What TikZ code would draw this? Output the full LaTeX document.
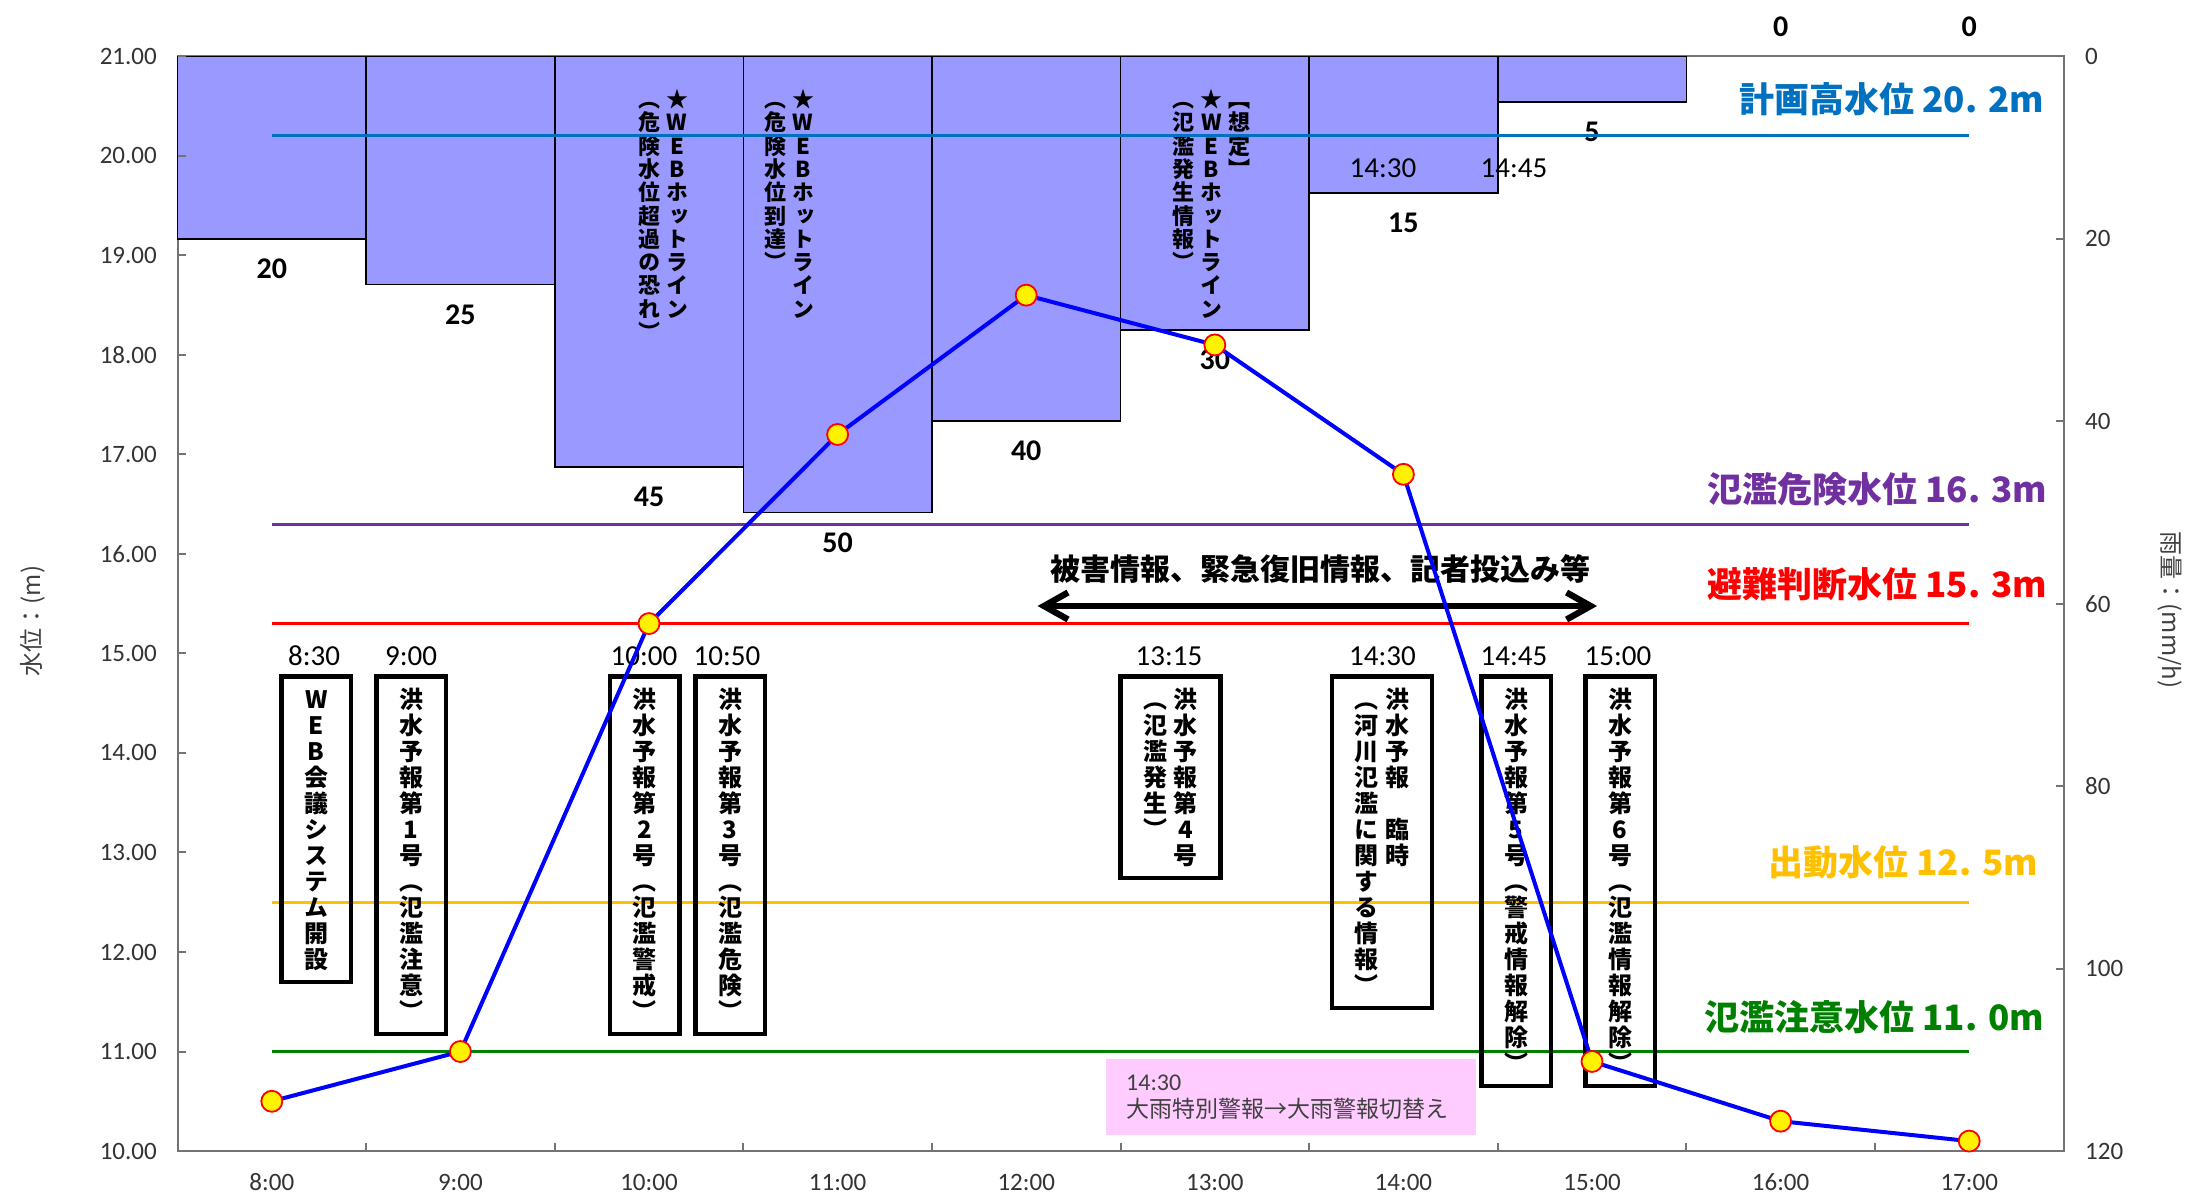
\documentclass[tikz,border=0pt]{standalone}
\usepackage{fontspec}
\setmainfont{Carlito}
\newfontfamily\cjk{Noto Sans CJK JP}
\newfontfamily\tatefont[RawFeature=+vert]{Noto Sans CJK JP}
\usetikzlibrary{arrows.meta}

\definecolor{barblue}{HTML}{9999FF}
\definecolor{lvplan}{HTML}{0070C0}
\definecolor{lvdanger}{HTML}{7030A0}
\definecolor{lvevac}{HTML}{FF0000}
\definecolor{lvmove}{HTML}{FFC000}
\definecolor{lvwarn}{HTML}{008000}
\definecolor{pinkfill}{HTML}{FFCCFF}

% vertical japanese text, one character per row
\newcommand\tatecell[1]{\hbox to 1em{\vrule height .88em depth .12em width 0pt\hss#1\hss}}
\newcommand\tate[1]{\vtop{\lineskiplimit=-\maxdimen\tatefirst#1\relax}}
\def\tatefirst#1{\tatecell{#1}\taterest}
\def\taterest#1{\ifx#1\relax\else\tatecell{#1}\expandafter\taterest\fi}

\begin{document}
\begin{tikzpicture}[x=1pt,y=-1pt,
  bar/.style={fill=barblue,draw=black,line width=1.6pt},
  barval/.style={font=\bfseries\fontsize{30}{30}\selectfont,inner sep=0pt},
  axisline/.style={draw=black!55,line width=2pt},
  ticklab/.style={font=\fontsize{25}{25}\selectfont,text=black!80,inner sep=0pt},
  axtitle/.style={font=\cjk\fontsize{24}{24}\selectfont,text=black!75,inner sep=0pt},
  hline/.style={line width=3pt},
  lvlab/.style={font=\cjk\bfseries\fontsize{35}{35}\selectfont,anchor=east,inner sep=0pt},
  event/.style={draw=black,line width=4.5pt,minimum width=69.5pt,inner xsep=0pt,inner ysep=10.7pt,anchor=north,font=\tatefont\bfseries\fontsize{24}{26}\selectfont},
  hotline/.style={inner sep=0pt,anchor=north,font=\tatefont\bfseries\fontsize{22}{23.3}\selectfont},
  timelab/.style={font=\fontsize{29}{29}\selectfont,inner sep=0pt},
  level/.style={draw=blue,line width=4pt,line join=round},
  dot/.style={circle,fill=yellow,draw=red,line width=1.8pt,minimum size=21pt,inner sep=0pt}]

\fill[white] (0,0) rectangle (2190,1200);

% plot frame
\draw[axisline] (177.5,56.3) -- (177.5,1151) -- (2064,1151) -- (2064,56.3) -- cycle;

% rainfall bars (right axis, from top)
\foreach \i/\r in {0/20,1/25,2/45,3/50,4/40,5/30,6/15,7/5} {
  \draw[bar] ({177.5+188.6*\i},56.3) rectangle ({366.1+188.6*\i},{56.3+9.1225*\r});
  \node[barval] (rain\i) at ({271.8+188.6*\i},{86.3+9.1225*\r}) {\r};
}
\node[barval] (rain8) at (1780.6,26.7) {0};
\node[barval] (rain9) at (1969.2,26.7) {0};

% hotline notes inside the bars
\node[hotline] (hot10) at (663,88) {\tate{（危険水位超過の恐れ）}\hspace{6pt}\tate{★WEBホットライン}};
\node[hotline] (hot11) at (789,88) {\tate{（危険水位到達）}\hspace{6pt}\tate{★WEBホットライン}};
\node[hotline] (hot13) at (1211.3,88) {\tate{（氾濫発生情報）}\hspace{6pt}\tate{★WEBホットライン}\hspace{6pt}\tate{【想定】}};
\node[timelab] (t1430a) at (1383,168) {14:30};
\node[timelab] (t1445a) at (1514,168) {14:45};

% ticks and tick labels
\foreach \v in {10,...,21} {
  \draw[axisline] (177.5,{56.3+99.52*(21-\v)}) -- ++(8,0);
  \node[ticklab,anchor=east] (wl\v) at (157,{56.3+99.52*(21-\v)}) {\v.00};
}
\foreach \r in {0,20,...,120} {
  \draw[axisline] (2064,{56.3+9.1225*\r}) -- ++(-8,0);
  \node[ticklab,anchor=west] (rl\r) at (2085,{56.3+9.1225*\r}) {\r};
}
\foreach \k in {1,...,9}
  \draw[axisline] ({177.5+188.6*\k},1151) -- ++(0,-8);
\foreach \h [count=\k from 0] in {8,...,17}
  \node[ticklab] (hr\h) at ({271.8+188.6*\k},1182) {\h:00};

\node[axtitle,rotate=90] (ytitle) at (33,621) {水位：(m)};
\node[axtitle,rotate=-90] (y2title) at (2170,610) {雨量：(mm/h)};

% reference water levels
\foreach \w/\c in {20.2/lvplan,16.3/lvdanger,15.3/lvevac,12.5/lvmove,11.0/lvwarn}
  \draw[hline,\c] (271.8,{56.3+99.52*(21-\w)}) -- (1969.2,{56.3+99.52*(21-\w)});
\node[lvlab,text=lvplan] (lab202) at (2044,99) {計画高水位 20. 2m};
\node[lvlab,text=lvdanger] (lab163) at (2047,489) {氾濫危険水位 16. 3m};
\node[lvlab,text=lvevac] (lab153) at (2047,584) {避難判断水位 15. 3m};
\node[lvlab,text=lvmove] (lab125) at (2038,862) {出動水位 12. 5m};
\node[lvlab,text=lvwarn] (lab110) at (2044,1017) {氾濫注意水位 11. 0m};

% events
\node[event] (b830) at (316.3,674.3) {\tate{WEB会議システム開設}};
\node[event] (b900) at (411,674.3) {\tate{洪水予報第1号（氾濫注意）}};
\node[event] (b1000) at (644.5,674.3) {\tate{洪水予報第2号（氾濫警戒）}};
\node[event] (b1050) at (730,674.3) {\tate{洪水予報第3号（氾濫危険）}};
\node[event,minimum width=100pt] (b1315) at (1170.5,674.3) {\tate{（氾濫発生）}\hspace{6.5pt}\tate{洪水予報第4号}};
\node[event,minimum width=100pt] (b1430) at (1382,674.3) {\tate{（河川氾濫に関する情報）}\hspace{6.5pt}\tate{洪水予報　臨時}};
\node[event] (b1445) at (1516,674.3) {\tate{洪水予報第5号（警戒情報解除）}};
\node[event] (b1500) at (1620,674.3) {\tate{洪水予報第6号（氾濫情報解除）}};

\node[timelab] (t830) at (314,656) {8:30};
\node[timelab] (t900) at (411,656) {9:00};
\node[timelab] (t1000) at (644,656) {10:00};
\node[timelab] (t1050) at (727,656) {10:50};
\node[timelab] (t1315) at (1169,656) {13:15};
\node[timelab] (t1430) at (1382.5,656) {14:30};
\node[timelab] (t1445) at (1514,656) {14:45};
\node[timelab] (t1500) at (1618,656) {15:00};

% damage info span
\coordinate (spanl) at (1037.6,606);
\coordinate (spanr) at (1597,606);
\draw[line width=6.3pt,{Straight Barb[length=24pt,width=27pt]}-{Straight Barb[length=24pt,width=27pt]}] (spanl) -- (spanr);
\node[font=\cjk\bfseries\fontsize{30}{30}\selectfont,inner sep=0pt] (dmg) at (1320,569.4) {被害情報、緊急復旧情報、記者投込み等};

% warning switch note
\node[fill=pinkfill,anchor=north west,minimum width=366.5pt,minimum height=76.5pt,
      text width=330pt,inner xsep=20pt,align=left,text=black!75,
      font=\fontsize{23}{27.5}\selectfont] (warn) at (1106,1058.5)
      {{\fontsize{24}{27.5}\selectfont 14:30}\\{\cjk 大雨特別警報→大雨警報切替え}};

% water level
\foreach \i/\w in {0/10.5,1/11.0,2/15.3,3/17.2,4/18.6,5/18.1,6/16.8,7/10.9,8/10.3,9/10.1}
  \coordinate (p\i) at ({271.8+188.6*\i},{56.3+99.52*(21-\w)});
\draw[level] (p0) \foreach \i in {1,...,9} {-- (p\i)};
\foreach \i in {0,...,9}
  \node[dot] (m\i) at (p\i) {};
\end{tikzpicture}
\end{document}
